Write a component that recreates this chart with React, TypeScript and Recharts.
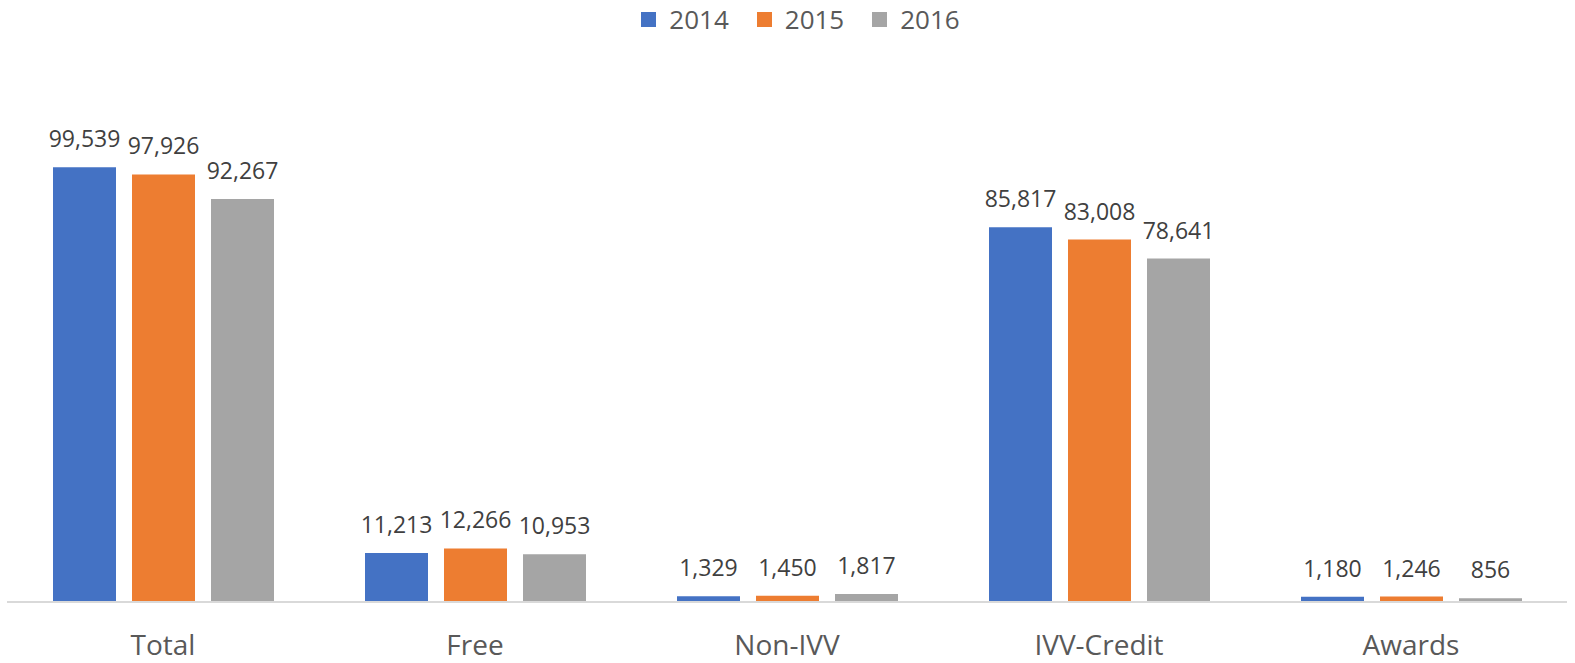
import { BarChart, Bar, XAxis, YAxis, LabelList } from 'recharts';

const categories = ['Total', 'Free', 'Non-IVV', 'IVV-Credit', 'Awards'];
const values2014 = [99539, 11213, 1329, 85817, 1180];
const values2015 = [97926, 12266, 1450, 83008, 1246];
const values2016 = [92267, 10953, 1817, 78641, 856];

const series = [
  { key: 'y2014', name: '2014', color: '#4472C4' },
  { key: 'y2015', name: '2015', color: '#ED7D31' },
  { key: 'y2016', name: '2016', color: '#A5A5A5' },
];

const data = categories.map((name, i) => ({
  name,
  y2014: values2014[i],
  y2015: values2015[i],
  y2016: values2016[i],
}));

const font = '"Open Sans", "Liberation Sans", sans-serif';
const fmt = (v: number) => v.toLocaleString('en-US');

function LegendBox() {
  return (
    <div
      style={{
        position: 'absolute',
        top: 2,
        left: 13,
        width: 1575,
        display: 'flex',
        justifyContent: 'center',
        gap: 28,
        fontFamily: font,
        fontSize: 26,
        color: '#595959',
        lineHeight: '34px',
      }}
    >
      {series.map((s) => (
        <div key={s.key} style={{ display: 'flex', alignItems: 'center', gap: 13 }}>
          <span style={{ width: 15, height: 15, background: s.color, display: 'inline-block' }} />
          <span>{s.name}</span>
        </div>
      ))}
    </div>
  );
}

export default function App() {
  return (
    <div style={{ position: 'absolute', left: 0, top: 0, width: 1575, height: 663, background: '#fff', overflow: 'hidden' }}>
      <BarChart
        width={1575}
        height={663}
        data={data}
        margin={{ top: 78, right: 8, bottom: 0, left: 7 }}
        barCategoryGap="14.7%"
        barGap={16}
      >
        <XAxis
          dataKey="name"
          height={61}
          tickLine={false}
          axisLine={{ stroke: '#D9D9D9', strokeWidth: 2 }}
          tick={{ fill: '#595959', fontSize: 28, fontFamily: font }}
          tickMargin={27}
          interval={0}
        />
        <YAxis hide domain={[0, 120000]} />
        {series.map((s) => (
          <Bar key={s.key} dataKey={s.key} name={s.name} fill={s.color} barSize={63} isAnimationActive={false}>
            <LabelList
              dataKey={s.key}
              position="top"
              offset={20}
              formatter={(v: any) => fmt(Number(v))}
              style={{ fill: '#404040', fontSize: 23, fontFamily: font }}
            />
          </Bar>
        ))}
      </BarChart>
      <LegendBox />
    </div>
  );
}
